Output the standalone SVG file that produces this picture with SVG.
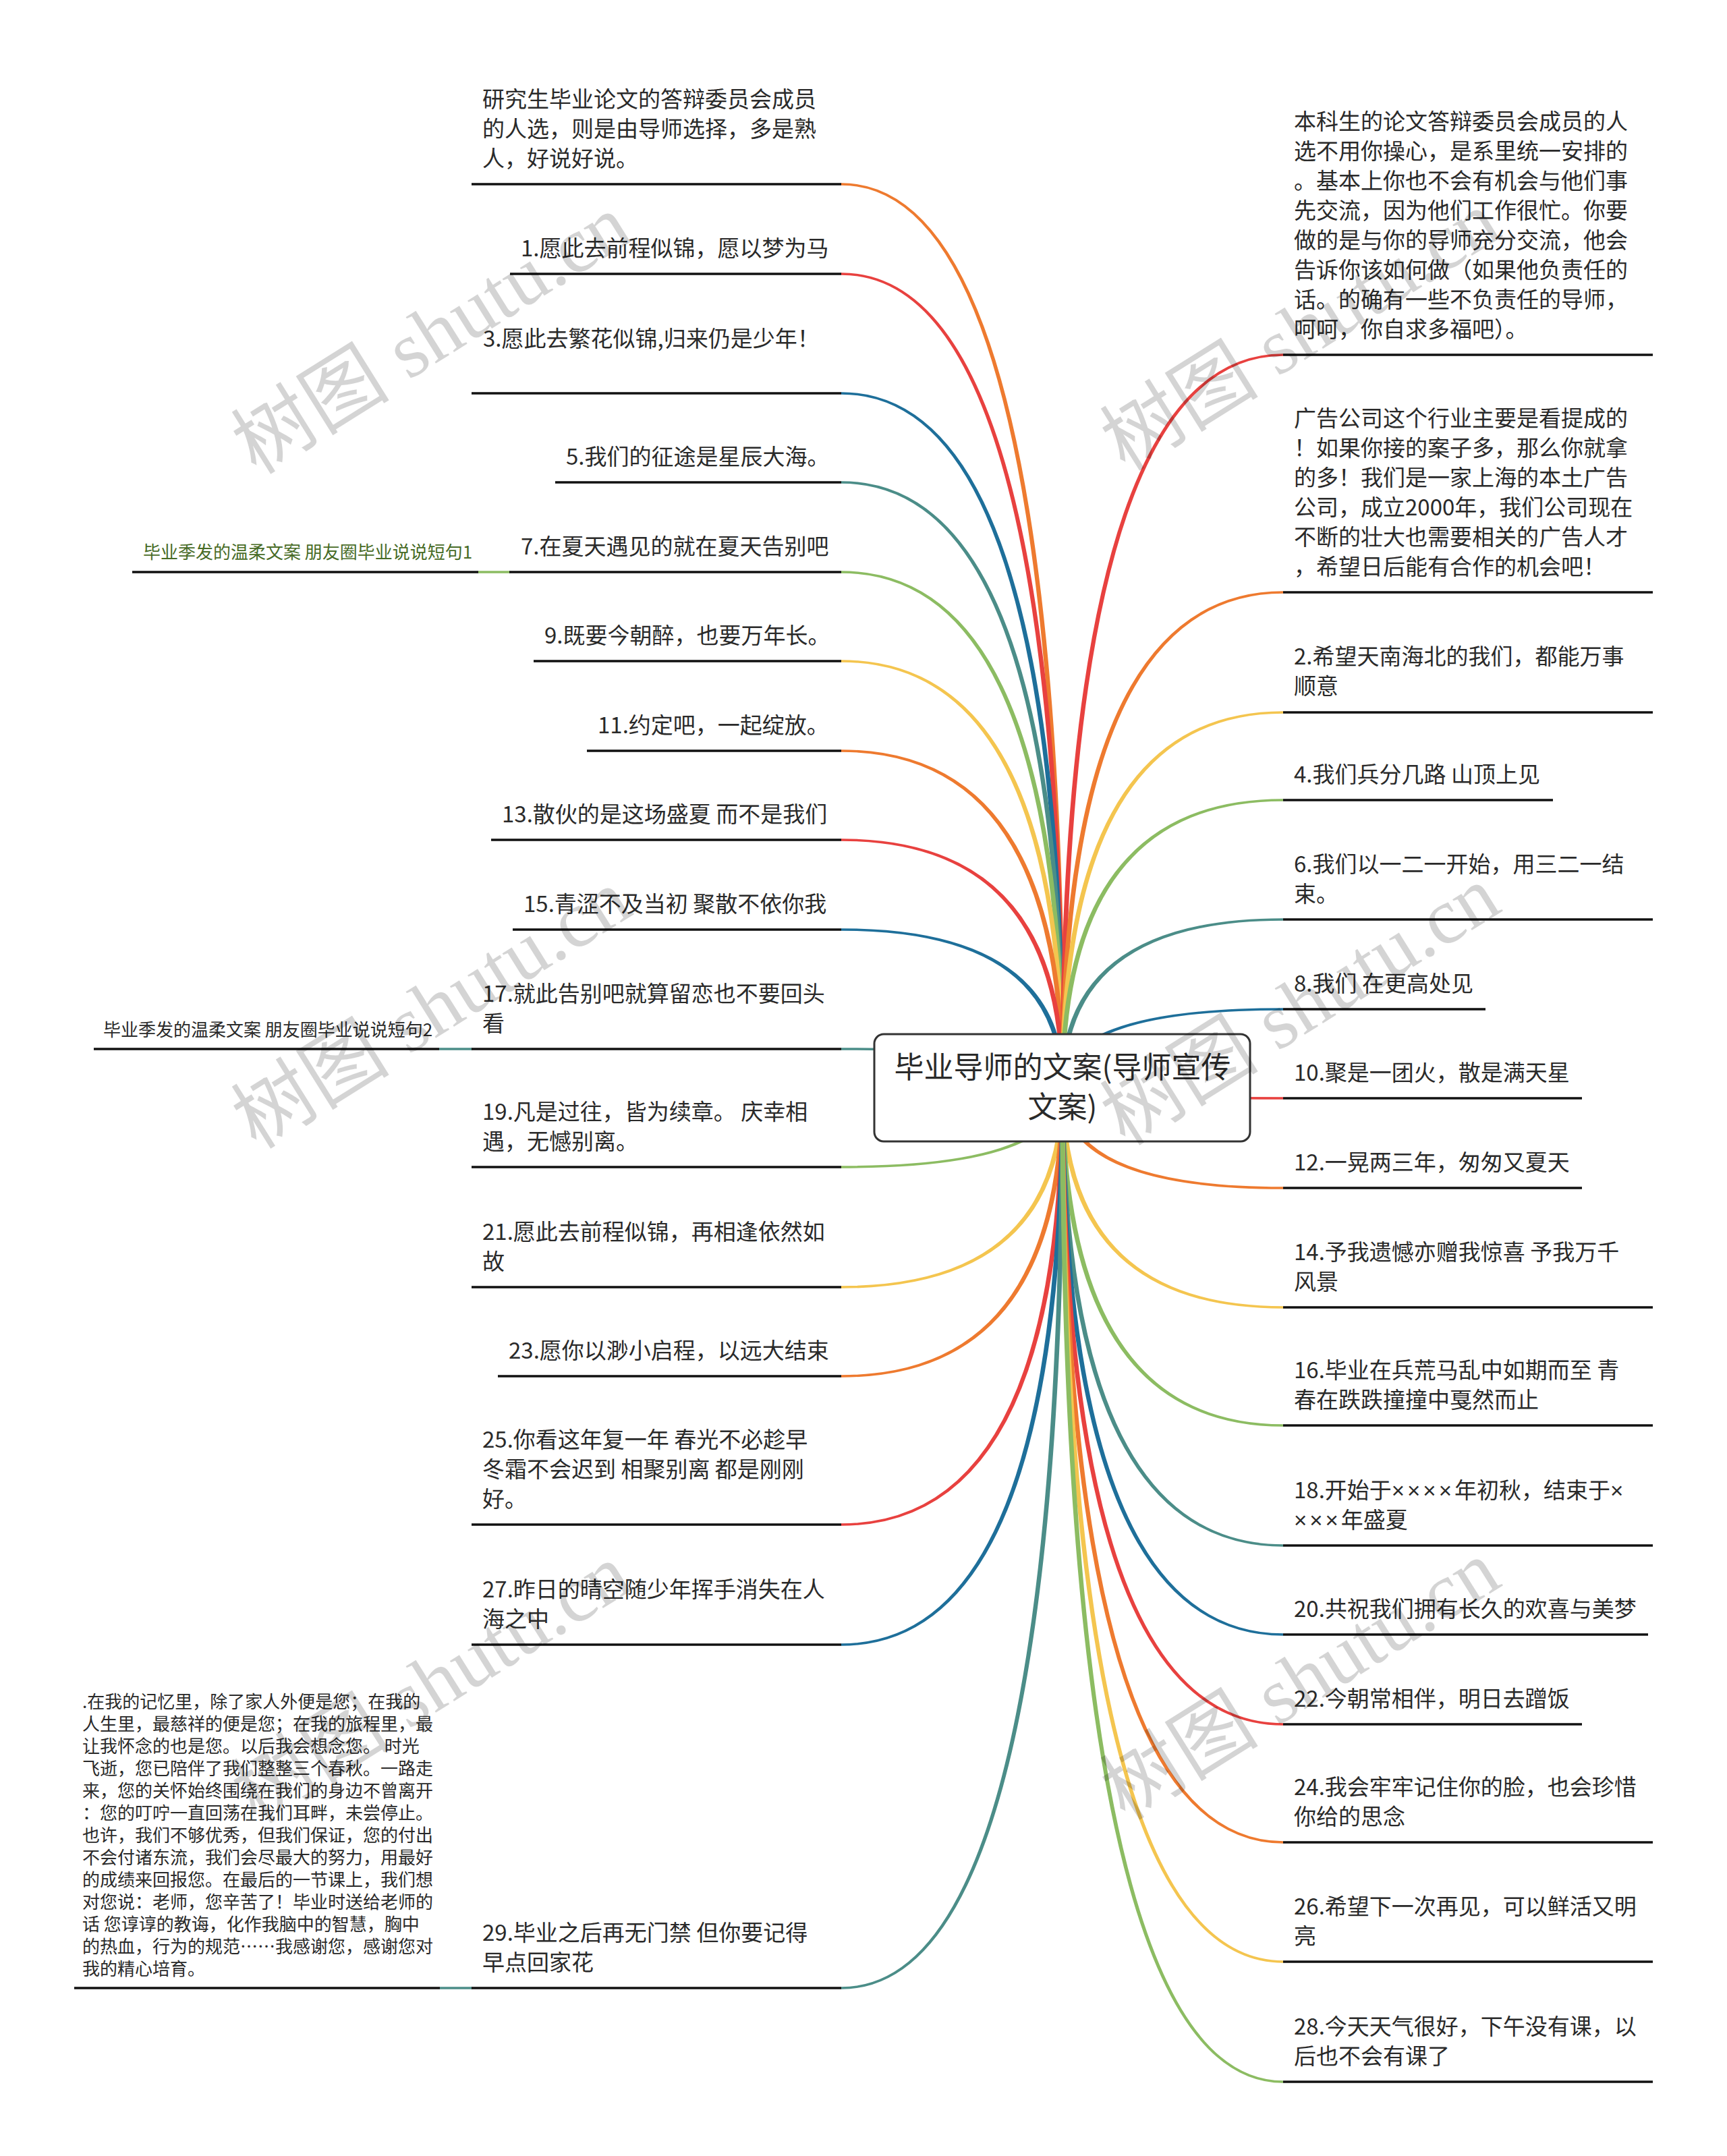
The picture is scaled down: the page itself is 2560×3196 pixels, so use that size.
<svg xmlns="http://www.w3.org/2000/svg" width="2560" height="3196" viewBox="0 0 2560 3196">
<style>
.t{font-family:"Noto Sans CJK SC","Liberation Sans",sans-serif;font-size:33px;fill:#2a2a2a}
.s{font-family:"Noto Sans CJK SC","Liberation Sans",sans-serif;font-size:26px;fill:#2a2a2a}
.x{font-family:"Liberation Sans",sans-serif}
.g{fill:#476b26}
.u{stroke:#111;stroke-width:3.5;fill:none}
.c{stroke-width:3.5;fill:none}
.or{fill:#ee7a2f}.re{fill:#e8413f}.bl{fill:#1e6f9a}.te{fill:#4b8d88}.gr{fill:#8cbc62}.ye{fill:#f4c54f}
.wm{font-family:"Liberation Serif","Noto Sans CJK SC",serif;font-size:118px;fill:#000;fill-opacity:0.17}
.ct{font-family:"Noto Sans CJK SC","Liberation Sans",sans-serif;font-size:44px;fill:#2a2a2a;text-anchor:middle}
</style>
<rect width="2560" height="3196" fill="#fff"/>
<g id="connectors">
<path class="or" d="M1578.5,1612Q1578.5,271.25 1247,271.25L1247,274.75Q1571.5,274.75 1571.5,1612Z"/>
<path class="re" d="M1578.5,1612Q1578.5,404.25 1247,404.25L1247,407.75Q1571.5,407.75 1571.5,1612Z"/>
<path class="bl" d="M1578.5,1612Q1578.5,581.25 1247,581.25L1247,584.75Q1571.5,584.75 1571.5,1612Z"/>
<path class="te" d="M1578.5,1612Q1578.5,713.25 1247,713.25L1247,716.75Q1571.5,716.75 1571.5,1612Z"/>
<path class="gr" d="M1578.5,1612Q1578.5,846.25 1247,846.25L1247,849.75Q1571.5,849.75 1571.5,1612Z"/>
<path class="ye" d="M1578.5,1612Q1578.5,978.25 1247,978.25L1247,981.75Q1571.5,981.75 1571.5,1612Z"/>
<path class="or" d="M1578.5,1612Q1578.5,1111.25 1247,1111.25L1247,1114.75Q1571.5,1114.75 1571.5,1612Z"/>
<path class="re" d="M1578.5,1612Q1578.5,1243.25 1247,1243.25L1247,1246.75Q1571.5,1246.75 1571.5,1612Z"/>
<path class="bl" d="M1578.5,1612Q1578.5,1376.25 1247,1376.25L1247,1379.75Q1571.5,1379.75 1571.5,1612Z"/>
<path class="te" d="M1578.5,1612Q1578.5,1553.25 1247,1553.25L1247,1556.75Q1571.5,1556.75 1571.5,1612Z"/>
<path class="gr" d="M1578.5,1612Q1578.5,1731.75 1247,1731.75L1247,1728.25Q1571.5,1728.25 1571.5,1612Z"/>
<path class="ye" d="M1578.5,1612Q1578.5,1909.75 1247,1909.75L1247,1906.25Q1571.5,1906.25 1571.5,1612Z"/>
<path class="or" d="M1578.5,1612Q1578.5,2041.75 1247,2041.75L1247,2038.25Q1571.5,2038.25 1571.5,1612Z"/>
<path class="re" d="M1578.5,1612Q1578.5,2261.75 1247,2261.75L1247,2258.25Q1571.5,2258.25 1571.5,1612Z"/>
<path class="bl" d="M1578.5,1612Q1578.5,2439.75 1247,2439.75L1247,2436.25Q1571.5,2436.25 1571.5,1612Z"/>
<path class="te" d="M1578.5,1612Q1578.5,2948.75 1247,2948.75L1247,2945.25Q1571.5,2945.25 1571.5,1612Z"/>
<path class="re" d="M1571.5,1612Q1571.5,524.25 1902,524.25L1902,527.75Q1578.5,527.75 1578.5,1612Z"/>
<path class="or" d="M1571.5,1612Q1571.5,876.25 1902,876.25L1902,879.75Q1578.5,879.75 1578.5,1612Z"/>
<path class="ye" d="M1571.5,1612Q1571.5,1054.25 1902,1054.25L1902,1057.75Q1578.5,1057.75 1578.5,1612Z"/>
<path class="gr" d="M1571.5,1612Q1571.5,1184.25 1902,1184.25L1902,1187.75Q1578.5,1187.75 1578.5,1612Z"/>
<path class="te" d="M1571.5,1612Q1571.5,1361.25 1902,1361.25L1902,1364.75Q1578.5,1364.75 1578.5,1612Z"/>
<path class="bl" d="M1571.5,1612Q1571.5,1494.25 1902,1494.25L1902,1497.75Q1578.5,1497.75 1578.5,1612Z"/>
<path class="re" d="M1571.5,1612Q1571.5,1629.75 1902,1629.75L1902,1626.25Q1578.5,1626.25 1578.5,1612Z"/>
<path class="or" d="M1571.5,1612Q1571.5,1762.75 1902,1762.75L1902,1759.25Q1578.5,1759.25 1578.5,1612Z"/>
<path class="ye" d="M1571.5,1612Q1571.5,1939.75 1902,1939.75L1902,1936.25Q1578.5,1936.25 1578.5,1612Z"/>
<path class="gr" d="M1571.5,1612Q1571.5,2114.75 1902,2114.75L1902,2111.25Q1578.5,2111.25 1578.5,1612Z"/>
<path class="te" d="M1571.5,1612Q1571.5,2292.75 1902,2292.75L1902,2289.25Q1578.5,2289.25 1578.5,1612Z"/>
<path class="bl" d="M1571.5,1612Q1571.5,2424.75 1902,2424.75L1902,2421.25Q1578.5,2421.25 1578.5,1612Z"/>
<path class="re" d="M1571.5,1612Q1571.5,2557.75 1902,2557.75L1902,2554.25Q1578.5,2554.25 1578.5,1612Z"/>
<path class="or" d="M1571.5,1612Q1571.5,2732.75 1902,2732.75L1902,2729.25Q1578.5,2729.25 1578.5,1612Z"/>
<path class="ye" d="M1571.5,1612Q1571.5,2909.75 1902,2909.75L1902,2906.25Q1578.5,2906.25 1578.5,1612Z"/>
<path class="gr" d="M1571.5,1612Q1571.5,3087.75 1902,3087.75L1902,3084.25Q1578.5,3084.25 1578.5,1612Z"/>
<line class="c" x1="709" y1="848" x2="756" y2="848" stroke="#8cbc62"/>
<line class="c" x1="651" y1="1555" x2="700" y2="1555" stroke="#4b8d88"/>
<line class="c" x1="652" y1="2947" x2="700" y2="2947" stroke="#4b8d88"/>
</g>
<g id="root">
<rect x="1296" y="1533" width="557" height="159" rx="14" fill="#fff" stroke="#333" stroke-width="3"/>
<text class="ct" x="1575" y="1598">毕业导师的文案(导师宣传</text>
<text class="ct" x="1575" y="1657">文案)</text>
</g>
<g id="nA"><line class="u" x1="699" y1="273" x2="1247" y2="273"/><text class="t" x="715" y="159">研究生毕业论文的答辩委员会成员</text><text class="t" x="715" y="203">的人选，则是由导师选择，多是熟</text><text class="t" x="715" y="247">人，好说好说。</text></g>
<g id="n1"><line class="u" x1="756" y1="406" x2="1247" y2="406"/><text class="t" x="772" y="380">1.愿此去前程似锦，愿以梦为马</text></g>
<g id="n3"><line class="u" x1="699" y1="583" x2="1247" y2="583"/><text class="t" x="716" y="514">3.愿此去繁花似锦,归来仍是少年！</text></g>
<g id="n5"><line class="u" x1="823" y1="715" x2="1247" y2="715"/><text class="t" x="839" y="689">5.我们的征途是星辰大海。</text></g>
<g id="n7"><line class="u" x1="755" y1="848" x2="1247" y2="848"/><text class="t" x="772" y="822">7.在夏天遇见的就在夏天告别吧</text></g>
<g id="n9"><line class="u" x1="791" y1="980" x2="1247" y2="980"/><text class="t" x="807" y="954">9.既要今朝醉，也要万年长。</text></g>
<g id="n11"><line class="u" x1="870" y1="1113" x2="1247" y2="1113"/><text class="t" x="886" y="1087">11.约定吧，一起绽放。</text></g>
<g id="n13"><line class="u" x1="728" y1="1245" x2="1247" y2="1245"/><text class="t" x="744" y="1219">13.散伙的是这场盛夏 而不是我们</text></g>
<g id="n15"><line class="u" x1="760" y1="1378" x2="1247" y2="1378"/><text class="t" x="776" y="1352">15.青涩不及当初 聚散不依你我</text></g>
<g id="n17"><line class="u" x1="699" y1="1555" x2="1247" y2="1555"/><text class="t" x="715" y="1485">17.就此告别吧就算留恋也不要回头</text><text class="t" x="715" y="1529">看</text></g>
<g id="n19"><line class="u" x1="699" y1="1730" x2="1247" y2="1730"/><text class="t" x="715" y="1660">19.凡是过往，皆为续章。 庆幸相</text><text class="t" x="715" y="1704">遇，无憾别离。</text></g>
<g id="n21"><line class="u" x1="699" y1="1908" x2="1247" y2="1908"/><text class="t" x="715" y="1838">21.愿此去前程似锦，再相逢依然如</text><text class="t" x="715" y="1882">故</text></g>
<g id="n23"><line class="u" x1="738" y1="2040" x2="1247" y2="2040"/><text class="t" x="754" y="2014">23.愿你以渺小启程，以远大结束</text></g>
<g id="n25"><line class="u" x1="699" y1="2260" x2="1247" y2="2260"/><text class="t" x="715" y="2146">25.你看这年复一年 春光不必趁早</text><text class="t" x="715" y="2190">冬霜不会迟到 相聚别离 都是刚刚</text><text class="t" x="715" y="2234">好。</text></g>
<g id="n27"><line class="u" x1="699" y1="2438" x2="1247" y2="2438"/><text class="t" x="715" y="2368">27.昨日的晴空随少年挥手消失在人</text><text class="t" x="715" y="2412">海之中</text></g>
<g id="n29"><line class="u" x1="699" y1="2947" x2="1247" y2="2947"/><text class="t" x="715" y="2877">29.毕业之后再无门禁 但你要记得</text><text class="t" x="715" y="2921">早点回家花</text></g>
<g id="s1"><line class="u" x1="196" y1="848" x2="709" y2="848"/><text class="s g" x="212" y="828">毕业季发的温柔文案 朋友圈毕业说说短句1</text></g>
<g id="s2"><line class="u" x1="139" y1="1555" x2="651" y2="1555"/><text class="s" x="153" y="1536">毕业季发的温柔文案 朋友圈毕业说说短句2</text></g>
<g id="s3"><line class="u" x1="110" y1="2947" x2="652" y2="2947"/>
<text class="s" x="122" y="2532">.在我的记忆里，除了家人外便是您；在我的</text>
<text class="s" x="122" y="2565">人生里，最慈祥的便是您；在我的旅程里，最</text>
<text class="s" x="122" y="2598">让我怀念的也是您。以后我会想念您。 时光</text>
<text class="s" x="122" y="2631">飞逝，您已陪伴了我们整整三个春秋。一路走</text>
<text class="s" x="122" y="2664">来，您的关怀始终围绕在我们的身边不曾离开</text>
<text class="s" x="122" y="2697">：您的叮咛一直回荡在我们耳畔，未尝停止。</text>
<text class="s" x="122" y="2730">也许，我们不够优秀，但我们保证，您的付出</text>
<text class="s" x="122" y="2763">不会付诸东流，我们会尽最大的努力，用最好</text>
<text class="s" x="122" y="2796">的成绩来回报您。在最后的一节课上，我们想</text>
<text class="s" x="122" y="2829">对您说：老师，您辛苦了！毕业时送给老师的</text>
<text class="s" x="122" y="2862">话 您谆谆的教诲，化作我脑中的智慧，胸中</text>
<text class="s" x="122" y="2895">的热血，行为的规范……我感谢您，感谢您对</text>
<text class="s" x="122" y="2928">我的精心培育。</text></g>
<g id="rA"><line class="u" x1="1902" y1="526" x2="2450" y2="526"/>
<text class="t" x="1918" y="192">本科生的论文答辩委员会成员的人</text>
<text class="t" x="1918" y="236">选不用你操心，是系里统一安排的</text>
<text class="t" x="1918" y="280">。基本上你也不会有机会与他们事</text>
<text class="t" x="1918" y="324">先交流，因为他们工作很忙。你要</text>
<text class="t" x="1918" y="368">做的是与你的导师充分交流，他会</text>
<text class="t" x="1918" y="412">告诉你该如何做（如果他负责任的</text>
<text class="t" x="1918" y="456">话。的确有一些不负责任的导师，</text>
<text class="t" x="1918" y="500">呵呵，你自求多福吧）。</text></g>
<g id="rB"><line class="u" x1="1902" y1="878" x2="2450" y2="878"/>
<text class="t" x="1918" y="632">广告公司这个行业主要是看提成的</text>
<text class="t" x="1918" y="676">！如果你接的案子多，那么你就拿</text>
<text class="t" x="1918" y="720">的多！我们是一家上海的本土广告</text>
<text class="t" x="1918" y="764">公司，成立2000年，我们公司现在</text>
<text class="t" x="1918" y="808">不断的壮大也需要相关的广告人才</text>
<text class="t" x="1918" y="852">，希望日后能有合作的机会吧！</text></g>
<g id="r2"><line class="u" x1="1902" y1="1056" x2="2450" y2="1056"/><text class="t" x="1918" y="985">2.希望天南海北的我们，都能万事</text><text class="t" x="1918" y="1029">顺意</text></g>
<g id="r4"><line class="u" x1="1902" y1="1186" x2="2302" y2="1186"/><text class="t" x="1918" y="1160">4.我们兵分几路 山顶上见</text></g>
<g id="r6"><line class="u" x1="1902" y1="1363" x2="2450" y2="1363"/><text class="t" x="1918" y="1293">6.我们以一二一开始，用三二一结</text><text class="t" x="1918" y="1337">束。</text></g>
<g id="r8"><line class="u" x1="1902" y1="1496" x2="2202" y2="1496"/><text class="t" x="1918" y="1470">8.我们 在更高处见</text></g>
<g id="r10"><line class="u" x1="1902" y1="1628" x2="2345" y2="1628"/><text class="t" x="1918" y="1602">10.聚是一团火，散是满天星</text></g>
<g id="r12"><line class="u" x1="1902" y1="1761" x2="2345" y2="1761"/><text class="t" x="1918" y="1735">12.一晃两三年，匆匆又夏天</text></g>
<g id="r14"><line class="u" x1="1902" y1="1938" x2="2450" y2="1938"/><text class="t" x="1918" y="1868">14.予我遗憾亦赠我惊喜 予我万千</text><text class="t" x="1918" y="1912">风景</text></g>
<g id="r16"><line class="u" x1="1902" y1="2113" x2="2450" y2="2113"/><text class="t" x="1918" y="2043">16.毕业在兵荒马乱中如期而至 青</text><text class="t" x="1918" y="2087">春在跌跌撞撞中戛然而止</text></g>
<g id="r18"><line class="u" x1="1902" y1="2291" x2="2450" y2="2291"/><text class="t" x="1918" y="2221">18.开始于<tspan class="x" letter-spacing="4">××××</tspan>年初秋，结束于<tspan class="x">×</tspan></text><text class="t" x="1918" y="2265"><tspan class="x" letter-spacing="4">×××</tspan>年盛夏</text></g>
<g id="r20"><line class="u" x1="1902" y1="2423" x2="2443" y2="2423"/><text class="t" x="1918" y="2397">20.共祝我们拥有长久的欢喜与美梦</text></g>
<g id="r22"><line class="u" x1="1902" y1="2556" x2="2345" y2="2556"/><text class="t" x="1918" y="2530">22.今朝常相伴，明日去蹭饭</text></g>
<g id="r24"><line class="u" x1="1902" y1="2731" x2="2450" y2="2731"/><text class="t" x="1918" y="2661">24.我会牢牢记住你的脸，也会珍惜</text><text class="t" x="1918" y="2705">你给的思念</text></g>
<g id="r26"><line class="u" x1="1902" y1="2908" x2="2450" y2="2908"/><text class="t" x="1918" y="2838">26.希望下一次再见，可以鲜活又明</text><text class="t" x="1918" y="2882">亮</text></g>
<g id="r28"><line class="u" x1="1902" y1="3086" x2="2450" y2="3086"/><text class="t" x="1918" y="3016">28.今天天气很好，下午没有课，以</text><text class="t" x="1918" y="3060">后也不会有课了</text></g>
<g id="watermarks">
<text class="wm" transform="translate(380,705) rotate(-32)">树图 shutu.cn</text>
<text class="wm" transform="translate(1668,700) rotate(-32)">树图 shutu.cn</text>
<text class="wm" transform="translate(380,1705) rotate(-32)">树图 shutu.cn</text>
<text class="wm" transform="translate(1668,1700) rotate(-32)">树图 shutu.cn</text>
<text class="wm" transform="translate(380,2705) rotate(-32)">树图 shutu.cn</text>
<text class="wm" transform="translate(1668,2700) rotate(-32)">树图 shutu.cn</text>
</g>
</svg>
